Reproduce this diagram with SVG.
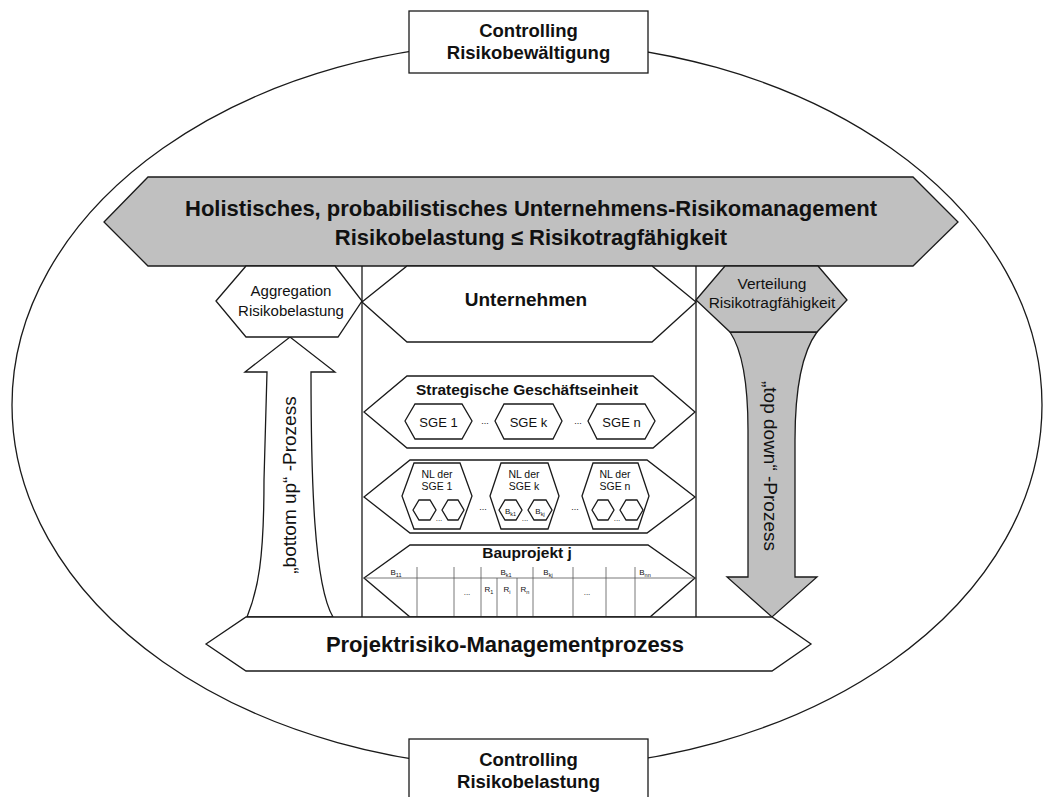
<svg xmlns="http://www.w3.org/2000/svg" width="1045" height="797" viewBox="0 0 1045 797">
<style>
.s{fill:#fff;stroke:#1a1a1a;stroke-width:1.3}
.g{fill:#c0c0c0;stroke:#1a1a1a;stroke-width:1.3}
.l{fill:none;stroke:#1a1a1a;stroke-width:1.3}
.tl{fill:none;stroke:#555;stroke-width:0.8}
text{font-family:"Liberation Sans",Arial,sans-serif;fill:#111;text-anchor:middle}
.b{font-weight:bold}
</style>
<rect width="1045" height="797" fill="#fff"/>
<g id="frame">
<ellipse cx="527" cy="405" rx="515" ry="363" class="l"/>
</g>
<g id="controlling-top">
<rect x="409" y="11" width="239" height="62" class="s"/>
<text x="528.5" y="37" font-size="18.5" class="b">Controlling</text>
<text x="528.5" y="59" font-size="18.5" class="b">Risikobewältigung</text>
</g>
<g id="controlling-bottom">
<rect x="409" y="739" width="239" height="70" class="s"/>
<text x="528.5" y="766" font-size="18.5" class="b">Controlling</text>
<text x="528.5" y="788" font-size="18.5" class="b">Risikobelastung</text>
</g>
<g id="title">
<polygon points="104,222 148,177 913,177 958,222 913,266 148,266" class="g"/>
<text x="531" y="216" font-size="22" class="b">Holistisches, probabilistisches Unternehmens-Risikomanagement</text>
<text x="531" y="245" font-size="22" class="b">Risikobelastung ≤ Risikotragfähigkeit</text>
</g>
<g id="connectors">
<line x1="362" y1="266" x2="362" y2="617" class="l"/>
<line x1="696" y1="266" x2="696" y2="617" class="l"/>
<path d="M245,372 L290,337 L335,372 L311,372 C311,480 314,585 333,617 L247,617 C258,590 264,560 264,480 L267,372 Z" class="s"/>
<path d="M730,332 C742,350 748,385 748,430 L748,577 L727,577 L772,617 L817,577 L795,577 L795,440 C795,395 800,355 817,332 Z" class="g"/>
<text transform="translate(296,485) rotate(-90)" font-size="19">„bottom up“ -Prozess</text>
<text transform="translate(764,466) rotate(90)" font-size="19">„top down“ -Prozess</text>
</g>
<g id="aggregation">
<polygon points="216,301 246,266 335,266 362,301 338,337 246,337" class="s"/>
<text x="291" y="296" font-size="15">Aggregation</text>
<text x="291" y="316" font-size="15">Risikobelastung</text>
</g>
<g id="verteilung">
<polygon points="696,300 725,266 818,266 847,300 817,332 730,332" class="g"/>
<text x="772" y="289" font-size="15.5">Verteilung</text>
<text x="772" y="308" font-size="15.5">Risikotragfähigkeit</text>
</g>
<g id="unternehmen">
<polygon points="362,302 407,266 652,266 696,302 652,342 407,342" class="s"/>
<text x="526" y="306" font-size="19" class="b">Unternehmen</text>
</g>
<g id="sge">
<polygon points="364,412 407,376 653,376 695,412 653,448 407,448" class="s"/>
<text x="527" y="395" font-size="15.5" class="b">Strategische Geschäftseinheit</text>
<polygon points="405,421 415,404 462,404 472,421 462,439 415,439" class="s"/>
<polygon points="495,421 504,404 553,404 562,421 553,439 504,439" class="s"/>
<polygon points="588,421 597,404 645,404 655,421 645,439 597,439" class="s"/>
<text x="438.5" y="427" font-size="13">SGE 1</text>
<text x="528.5" y="427" font-size="13">SGE k</text>
<text x="621.5" y="427" font-size="13">SGE n</text>
<text x="485" y="424" font-size="9">...</text>
<text x="578" y="424" font-size="9">...</text>
</g>
<g id="nl">
<polygon points="364,497 410,460 647,460 695,497 647,533 410,533" class="s"/>
<polygon points="402,496 414,463 460,463 472,496 460,529 414,529" class="s"/>
<polygon points="490,496 501,463 548,463 559,496 548,529 501,529" class="s"/>
<polygon points="582,496 593,463 638,463 649,496 638,529 593,529" class="s"/>
<text x="437" y="478" font-size="10.5">NL der</text>
<text x="437" y="490" font-size="10.5">SGE 1</text>
<text x="524" y="478" font-size="10.5">NL der</text>
<text x="524" y="490" font-size="10.5">SGE k</text>
<text x="615" y="478" font-size="10.5">NL der</text>
<text x="615" y="490" font-size="10.5">SGE n</text>
<polygon points="413,510 419,500 430,500 436,510 430,520 419,520" class="s"/>
<polygon points="442,510 448,500 458,500 464,510 458,520 448,520" class="s"/>
<polygon points="499,510 505,500 516,500 522,510 516,520 505,520" class="s"/>
<polygon points="528,510 534,500 546,500 552,510 546,520 534,520" class="s"/>
<polygon points="592,510 598,500 608,500 614,510 608,520 598,520" class="s"/>
<polygon points="620,510 626,500 637,500 643,510 637,520 626,520" class="s"/>
<text x="510.5" y="514" font-size="8">B<tspan font-size="5.5" dy="1.5">k1</tspan></text>
<text x="540" y="514" font-size="8">B<tspan font-size="5.5" dy="1.5">kj</tspan></text>
<text x="439" y="521" font-size="8">...</text>
<text x="525" y="521" font-size="8">...</text>
<text x="617" y="521" font-size="8">...</text>
<text x="483" y="510" font-size="9">...</text>
<text x="575" y="510" font-size="9">...</text>
</g>
<g id="bauprojekt">
<polygon points="364,578 410,545 648,545 695,578 650,617 410,617" class="s"/>
<text x="527" y="558" font-size="15.5" class="b">Bauprojekt j</text>
<line x1="364" y1="578" x2="695" y2="578" class="tl"/>
<path d="M417,567V617M454,567V617M481,567V617M533,567V617M573,567V617M606,567V617M635,567V617M497,578V617M517,578V617" class="tl"/>
<text x="396" y="575" font-size="8">B<tspan font-size="5.5" dy="1.5">11</tspan></text>
<text x="506" y="575" font-size="8">B<tspan font-size="5.5" dy="1.5">k1</tspan></text>
<text x="548" y="575" font-size="8">B<tspan font-size="5.5" dy="1.5">kj</tspan></text>
<text x="645" y="575" font-size="8">B<tspan font-size="5.5" dy="1.5">nn</tspan></text>
<text x="467" y="595" font-size="8">...</text>
<text x="489" y="592" font-size="8">R<tspan font-size="5.5" dy="1.5">1</tspan></text>
<text x="507" y="592" font-size="8">R<tspan font-size="5.5" dy="1.5">i</tspan></text>
<text x="525" y="592" font-size="8">R<tspan font-size="5.5" dy="1.5">n</tspan></text>
<text x="587" y="595" font-size="8">...</text>
</g>
<g id="projektrisiko">
<polygon points="206,644 246,617 772,617 811,644 772,671 246,671" class="s"/>
<text x="505" y="652" font-size="22" class="b">Projektrisiko-Managementprozess</text>
</g>
</svg>
